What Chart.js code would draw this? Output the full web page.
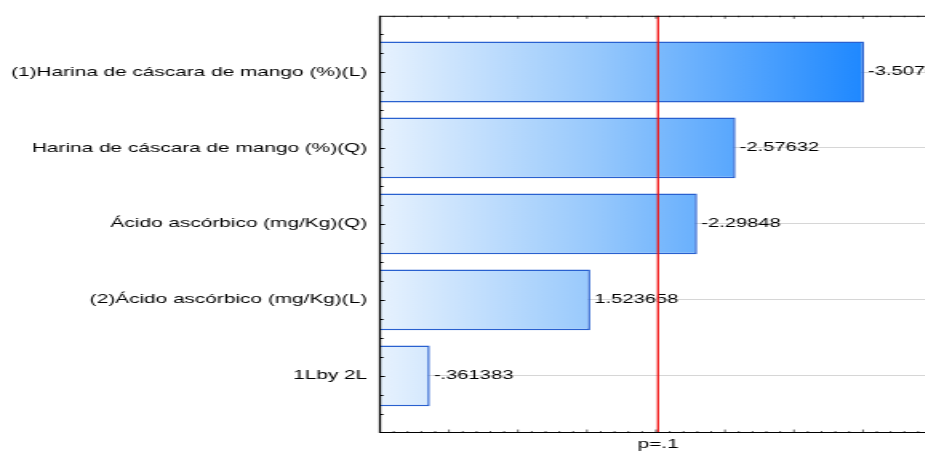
<!DOCTYPE html>
<html>
<head>
<meta charset="utf-8">
<script src="https://cdn.jsdelivr.net/npm/chart.js@4/dist/chart.umd.min.js"></script>
<style>
  html, body { margin: 0; padding: 0; width: 925px; height: 455px; overflow: hidden; background: #fff; }
  /* the chart is laid out narrow and stretched horizontally */
  #wrap { width: 590px; height: 455px; transform: scaleX(1.6); transform-origin: 0 0; }
</style>
</head>
<body>
<div id="wrap"><canvas id="pareto" width="590" height="455"></canvas></div>
<script>
// Pareto chart of standardized effects
const factorLabels = [
  '(1)Harina de cáscara de mango (%)(L)',
  'Harina de cáscara de mango (%)(Q)',
  'Ácido ascórbico (mg/Kg)(Q)',
  '(2)Ácido ascórbico (mg/Kg)(L)',
  '1Lby 2L'
];
const tValues = [-3.50706, -2.57632, -2.29848, 1.523658, -0.361383];
const critT = 2.015;          // critical |t| at p = .1
const critLabel = 'p=.1';
const xMax = 4;

const SX = 1.6;               // horizontal stretch of the wrapper
const FONT = "'Liberation Sans', Arial, sans-serif";

function fmtEffect(v) {
  return String(v).replace(/^(-?)0\./, '$1.');
}

const barGradient = (c) => {
  const chart = c.chart;
  const a = chart.chartArea;
  if (!a) return '#9ccbfa';
  const x = chart.scales.x;
  const g = chart.ctx.createLinearGradient(a.left, 0, x.getPixelForValue(3.507), 0);
  g.addColorStop(0, '#e7f2fe');
  g.addColorStop(0.45, '#96c8fc');
  g.addColorStop(1, '#1e88ff');
  return g;
};

const paretoDecor = {
  id: 'paretoDecor',
  afterDatasetsDraw(chart) {
    const { ctx, chartArea: a, scales: { x, y } } = chart;
    ctx.save();
    // effect values beside the bars
    ctx.font = '12.6px ' + FONT;
    ctx.fillStyle = '#000';
    ctx.textAlign = 'left';
    ctx.textBaseline = 'middle';
    tValues.forEach((v, i) => {
      const px = x.getPixelForValue(Math.abs(v));
      const py = y.getPixelForValue(i);
      ctx.fillText(fmtEffect(v), px + 2.5, py);
    });
    // reference line at the critical value
    const cx = x.getPixelForValue(critT);
    ctx.strokeStyle = '#f21010';
    ctx.lineWidth = 1.3;
    ctx.beginPath();
    ctx.moveTo(cx, a.top);
    ctx.lineTo(cx, a.bottom);
    ctx.stroke();
    ctx.restore();
  },
  afterDraw(chart) {
    const { ctx, chartArea: a, scales: { x, y } } = chart;
    ctx.save();
    ctx.strokeStyle = '#000';
    // frame
    ctx.lineWidth = 1;
    ctx.beginPath();
    ctx.moveTo(a.left, a.top + 0.5); ctx.lineTo(a.right + 20, a.top + 0.5);
    ctx.moveTo(a.left, a.bottom + 0.5); ctx.lineTo(a.right + 20, a.bottom + 0.5);
    ctx.stroke();
    ctx.lineWidth = 1.3;
    ctx.beginPath();
    ctx.moveTo(a.left, a.top); ctx.lineTo(a.left, a.bottom + 1);
    ctx.stroke();
    // inward ticks on top and bottom, every 0.1 with majors every 0.5
    ctx.lineWidth = 1 / SX;
    ctx.beginPath();
    for (let k = 1; k <= xMax * 10; k++) {
      const px = x.getPixelForValue(k / 10);
      const len = (k % 5 === 0) ? 3 : 1.5;
      ctx.moveTo(px, a.top); ctx.lineTo(px, a.top + len);
      ctx.moveTo(px, a.bottom + 0.5); ctx.lineTo(px, a.bottom + 0.5 - len);
    }
    ctx.stroke();
    // inward ticks on the left, every quarter category
    ctx.lineWidth = 1;
    ctx.beginPath();
    for (let k = -2; k <= 18; k++) {
      const py = Math.round(y.getPixelForValue(k / 4)) + 0.5;
      const len = (k % 4 === 0) ? 4 / SX : 2.5 / SX;
      ctx.moveTo(a.left, py); ctx.lineTo(a.left + 0.6 + len, py);
    }
    ctx.stroke();
    ctx.restore();
  }
};

new Chart(document.getElementById('pareto'), {
  type: 'bar',
  data: {
    datasets: [{
      data: tValues.map((v, i) => ({ x: Math.abs(v), y: i })),
      backgroundColor: barGradient,
      borderColor: '#2860cf',
      borderWidth: 1.5,
      borderSkipped: 'start',
      barPercentage: 0.8,
      categoryPercentage: 1
    }]
  },
  options: {
    indexAxis: 'y',
    responsive: false,
    animation: false,
    devicePixelRatio: 1,
    layout: { padding: { top: 13, right: 7.5, left: 0, bottom: 0 } },
    plugins: { legend: { display: false }, tooltip: { enabled: false } },
    scales: {
      x: {
        type: 'linear',
        position: 'bottom',
        min: 0,
        max: xMax,
        afterBuildTicks: (s) => { s.ticks = [{ value: critT }]; },
        afterFit: (s) => { s.height = 23; },
        grid: { display: false, drawTicks: false },
        border: { display: false },
        ticks: {
          callback: () => critLabel,
          color: '#000',
          padding: 5,
          maxRotation: 0,
          font: { family: FONT, size: 13 }
        }
      },
      y: {
        type: 'linear',
        reverse: true,
        offset: false,
        min: -0.74,
        max: 4.74,
        afterBuildTicks: (s) => { s.ticks = factorLabels.map((_, i) => ({ value: i })); },
        afterFit: (s) => { s.width = 237.5; },
        grid: { color: '#d6d6d6', lineWidth: 1, drawTicks: false, offset: false },
        border: { display: false },
        ticks: {
          callback: (v) => factorLabels[v],
          color: '#000',
          padding: 8,
          font: { family: FONT, size: 13 }
        }
      }
    }
  },
  plugins: [paretoDecor]
});
</script>
</body>
</html>
